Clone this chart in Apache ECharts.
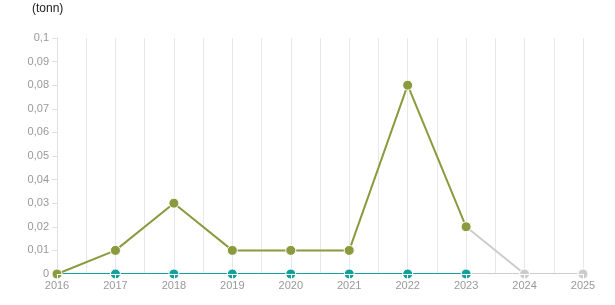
<!DOCTYPE html>
<html><head><meta charset="utf-8">
<script src="https://cdn.jsdelivr.net/npm/echarts@6/dist/echarts.min.js"></script>
<style>html,body{margin:0;padding:0;background:#fff}#c{width:615px;height:305px}</style>
</head><body><div id="c"></div>
<script>
const categories = [2016, 2017, 2018, 2019, 2020, 2021, 2022, 2023, 2024, 2025];
const seriesA = [0, 0.01, 0.03, 0.01, 0.01, 0.01, 0.08, 0.02];      // olive, actual
const seriesAProj = [null, null, null, null, null, null, null, 0.02, 0, 0]; // grey continuation
const seriesB = [0, 0, 0, 0, 0, 0, 0, 0];                           // teal, actual
const seriesBProj = [null, null, null, null, null, null, null, 0, 0, 0];
const yTicks = [0, 0.01, 0.02, 0.03, 0.04, 0.05, 0.06, 0.07, 0.08, 0.09, 0.1];
const unitLabel = '(tonn)';

const pairs = v => v.map((y, i) => y === null ? null : [categories[i], y]).filter(p => p);
const chart = echarts.init(document.getElementById('c'));
const OLIVE = '#8a9a3e', TEAL = '#13a09b', GREY = '#cccccc';
const base = {type: 'line', symbol: 'circle', symbolSize: 10, lineStyle: {width: 2},
  itemStyle: {borderColor: '#fff', borderWidth: 1}, animation: false, xAxisIndex: 0};
const xMin = categories[0], xMax = categories[categories.length - 1];
chart.setOption({
  animation: false,
  textStyle: {fontFamily: 'Arial, Liberation Sans, sans-serif'},
  title: {text: unitLabel, left: 27, top: -2, textStyle: {fontSize: 12, fontWeight: 'normal', color: '#222'}},
  grid: {left: 57, right: 32, top: 38, bottom: 31},
  xAxis: [
    {type: 'value', min: xMin, max: xMax, interval: 0.5,
      axisLine: {show: false}, axisTick: {show: false},
      axisLabel: {color: '#999', fontSize: 11, margin: 6, formatter: v => Number.isInteger(v) ? String(v) : ''},
      splitLine: {show: true, lineStyle: {color: '#e8e8e8'}}},
    {type: 'value', min: xMin, max: xMax, interval: 1, position: 'bottom', z: 10,
      axisLine: {show: true, onZero: false, lineStyle: {color: '#ffffff', width: 1}},
      axisTick: {show: true, length: 5, lineStyle: {color: '#ffffff'}},
      axisLabel: {show: false}, splitLine: {show: false}}
  ],
  yAxis: {type: 'value', min: 0, max: 0.1, interval: 0.01,
    axisLine: {show: true, lineStyle: {color: '#e0e0e0'}},
    axisTick: {show: true, length: 5, lineStyle: {color: '#e0e0e0'}},
    axisLabel: {color: '#999', fontSize: 11, margin: 8,
      formatter: v => { const t = yTicks.find(x => Math.abs(x - v) < 1e-9); return String(+(t ?? v).toFixed(2)).replace('.', ','); }},
    splitLine: {show: false}},
  series: [
    Object.assign({}, base, {data: pairs(seriesBProj), color: GREY, z: 2}),
    Object.assign({}, base, {data: pairs(seriesAProj), color: GREY, z: 2}),
    Object.assign({}, base, {data: pairs(seriesB), color: TEAL, z: 3}),
    Object.assign({}, base, {data: pairs(seriesA), color: OLIVE, z: 4})
  ]
});
</script></body></html>
